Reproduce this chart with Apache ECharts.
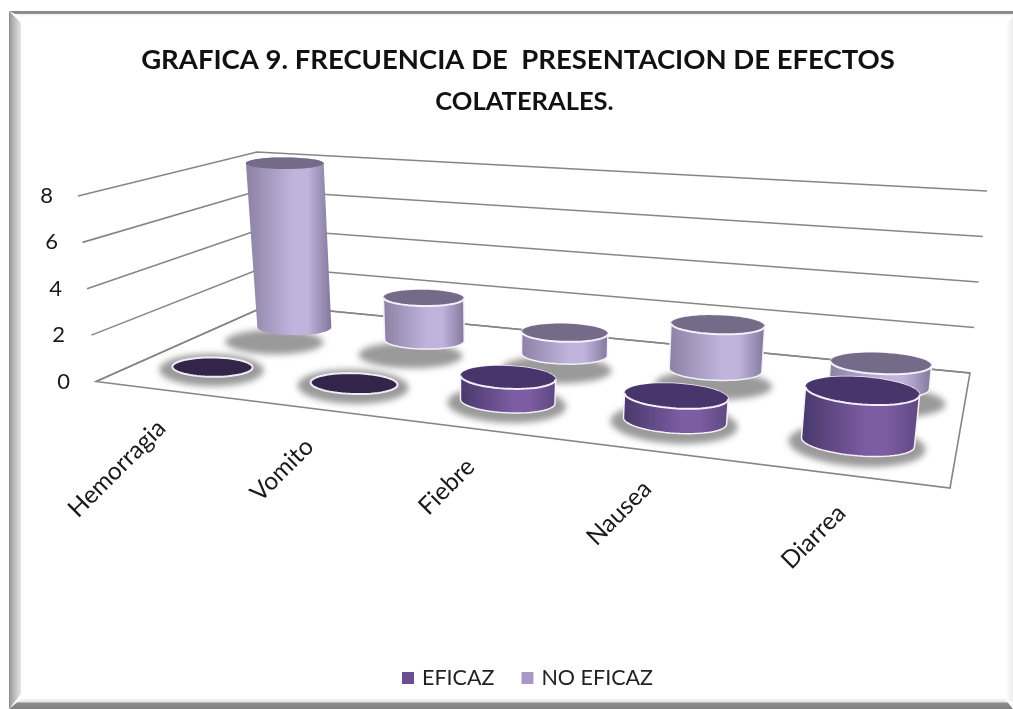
<!DOCTYPE html>
<html><head><meta charset="utf-8">
<style>html,body{margin:0;padding:0;background:#fff}#c{width:1013px;height:709px}</style>
<script src="https://cdn.jsdelivr.net/npm/echarts@6/dist/echarts.min.js"></script>
</head><body><div id="c"></div>
<script>
const categories = ['Hemorragia','Vomito','Fiebre','Nausea','Diarrea'];
const eficaz = [0,0,1,1,2];
const noEficaz = [8,2,1,2,1];
const yTicks = [0,2,4,6,8];
const seriesNames = ['EFICAZ','NO EFICAZ'];

// ---- perspective of the box (layout only) ----
const FL=[96,381.5], FR=[950,488], BR=[970,373], BL=[268,305];
const hFL=[-18,-185.5], hFR=[24,-218], hBR=[17,-182], hBL=[-11,-153];
const H=(function(){
  const dx1=FR[0]-BR[0],dx2=BL[0]-BR[0],sx=FL[0]-FR[0]+BR[0]-BL[0];
  const dy1=FR[1]-BR[1],dy2=BL[1]-BR[1],sy=FL[1]-FR[1]+BR[1]-BL[1];
  const den=dx1*dy2-dx2*dy1;
  const g=(sx*dy2-dx2*sy)/den,h=(dx1*sy-sx*dy1)/den;
  return {a:FR[0]-FL[0]+g*FR[0],b:BL[0]-FL[0]+h*BL[0],c:FL[0],
          d:FR[1]-FL[1]+g*FR[1],e:BL[1]-FL[1]+h*BL[1],f:FL[1],g,h};
})();
function proj(u,v,w){
  const q=H.g*u+H.h*v+1;
  const x=(H.a*u+H.b*v+H.c)/q, y=(H.d*u+H.e*v+H.f)/q;
  const bl=(A,B,C,D,i)=>(A[i]*(1-u)+B[i]*u)*(1-v)+(D[i]*(1-u)+C[i]*u)*v;
  return [x+w*bl(hFL,hFR,hBR,hBL,0), y+w*bl(hFL,hFR,hBR,hBL,1)];
}
function norm(params,api,cat,val){
  const p=api.coord([cat,val]), s=params.coordSys;
  return {u:(p[0]-s.x)/s.width, w:(s.y+s.height-p[1])/s.height};
}
// ellipse: long axis slightly tilted along the floor line, short axis vertical
function disc(u,v,w,ratio,tilt,extra,N){
  const c=proj(u,v,w), a=proj(u-RU,v,w), b=proj(u+RU,v,w);
  const ax=(b[0]-a[0])/2+extra, ay=(b[1]-a[1])/2*tilt*u, ry=ax*ratio;
  const pts=[];
  for(let i=0;i<N;i++){const t=i/N*2*Math.PI;pts.push([c[0]+ax*Math.cos(t),c[1]+ay*Math.cos(t)+ry*Math.sin(t)]);}
  return pts;
}
function hull(P){
  const s=P.slice().sort((a,b)=>a[0]-b[0]||a[1]-b[1]);
  const cr=(o,a,b)=>(a[0]-o[0])*(b[1]-o[1])-(a[1]-o[1])*(b[0]-o[0]);
  const lo=[],up=[];
  for(const p of s){while(lo.length>1&&cr(lo[lo.length-2],lo[lo.length-1],p)<=0)lo.pop();lo.push(p);}
  for(const p of s.slice().reverse()){while(up.length>1&&cr(up[up.length-2],up[up.length-1],p)<=0)up.pop();up.push(p);}
  return lo.slice(0,-1).concat(up.slice(0,-1));
}
const RU=0.059, OFF=3000;
const looks={
  front:{v:0.25,r0:0.24,r1:0.24,tilt:0.75,edge1:'#47386a',mid:'#7c5ca2',edge2:'#5d4880',top:'#47356b',flat:'#33244a'},
  back:{v:0.76,r0:0.22,r1:0.15,tilt:0.5,edge1:'#8b81a3',mid:'#c0b4dd',edge2:'#81779a',top:'#736b88',flat:'#33244a'}
};
function grad(l){return {type:'linear',x:0,y:0,x2:1,y2:0,colorStops:[
  {offset:0,color:l.edge1},{offset:.55,color:l.mid},{offset:.72,color:l.mid},{offset:1,color:l.edge2}]};}
function cylinder(look){
  return function(params,api){
    const l=looks[look];
    const n=norm(params,api,api.value(0),api.value(1));
    const N=64;
    const bot=disc(n.u,l.v,0,l.r0,l.tilt,0,N), top=disc(n.u,l.v,n.w,l.r0+(l.r1-l.r0)*n.w,l.tilt,0,N);
    const kids=[];
    const white=n.w<0.5;
    if(n.w>0){
      kids.push({type:'polygon',shape:{points:hull(bot.concat(top))},
        style:{fill:grad(l),stroke:white?'#f6f0fb':null,lineWidth:1.5}});
      kids.push({type:'polygon',shape:{points:top},style:{fill:l.top}});
      if(white){
        kids.push({type:'polyline',shape:{points:top.slice(0,N/2+1)},style:{stroke:'#f6f0fb',lineWidth:2,fill:null}});
      }
    } else {
      kids.push({type:'polygon',shape:{points:top},style:{fill:l.flat,stroke:'#f0ecf6',lineWidth:2}});
    }
    return {type:'group',children:kids};
  };
}
// soft shadow: the shape sits off-canvas, only its blurred shadow lands on the floor
function shadow(look){
  return function(params,api){
    const l=looks[look];
    const n=norm(params,api,api.value(0),api.value(1));
    const pts=disc(n.u,l.v,0,look==='back'?0.25:0.31,l.tilt,12,48);
    const dx=look==='back'?-23+n.u*30:-1, dy=look==='back'?15:3;
    return {type:'polygon',x:dx-OFF,y:dy,shape:{points:pts},
      style:{fill:'#999',shadowBlur:6,shadowColor:'#9a9a9a',shadowOffsetX:OFF,shadowOffsetY:0}};
  };
}
function wall(params,api){
  const n=norm(params,api,0,api.value(1));
  const a=proj(0,0,n.w), b=proj(0,1,n.w), c=proj(1,1,n.w);
  const kids=[{type:'polyline',shape:{points:[a,b,c]},style:{stroke:'#868686',lineWidth:1.6,fill:null}}];
  if(api.value(1)===0){
    kids.unshift({type:'polygon',shape:{points:[a,proj(1,0,0),c,b]},style:{fill:'#fff',stroke:'#868686',lineWidth:1.6}});
  }
  return {type:'group',children:kids};
}
function catLabel(params,api){
  const i=api.value(0);
  const n=norm(params,api,i,0);
  const p=proj(n.u,0,0);
  return {type:'text',x:p[0]-4,y:p[1]+34,rotation:Math.PI/4,
    style:{text:categories[i],font:'24.5px Lato',fill:'#1a1a1a',textAlign:'right',textVerticalAlign:'middle'}};
}
const pairs=a=>a.map((v,i)=>[i,v]);
const tickPad={8:17,6:12,4:8,2:5,0:0};
const rich={};
yTicks.forEach(t=>{rich['t'+t]={padding:[0,tickPad[t],0,0],fontFamily:'Lato',fontSize:22,color:'#1a1a1a'};});

const frame=[
  {type:'polygon',shape:{points:[[9,11],[21,23],[21,694],[9,709]]},style:{fill:{type:'linear',x:0,y:0,x2:1,y2:0,colorStops:[{offset:0,color:'#8a8a8a'},{offset:.2,color:'#a8a8a8'},{offset:1,color:'#e6e6e6'}]}}},
  {type:'polygon',shape:{points:[[9,11],[1013,11],[1013,17],[21,17]]},style:{fill:{type:'linear',x:0,y:0,x2:0,y2:1,colorStops:[{offset:0,color:'#858585'},{offset:.42,color:'#8f8f8f'},{offset:.5,color:'#f2f2f2'},{offset:1,color:'#fdfdfd'}]}}},
  {type:'polygon',shape:{points:[[9,709],[1013,709],[1005,699],[21,699]]},style:{fill:{type:'linear',x:0,y:0,x2:0,y2:1,colorStops:[{offset:0,color:'#f6f6f6'},{offset:.3,color:'#e4e4e4'},{offset:.4,color:'#8c8c8c'},{offset:1,color:'#808080'}]}}},
  {type:'polygon',shape:{points:[[1013,17],[1013,702],[1007,699],[1007,23]]},style:{fill:{type:'linear',x:0,y:0,x2:1,y2:0,colorStops:[{offset:0,color:'#fbfbfb'},{offset:1,color:'#ececec'}]}}}
];

const chart=echarts.init(document.getElementById('c'),null,{renderer:'canvas'});
chart.setOption({
  animation:false,
  backgroundColor:'#ffffff',
  graphic:{elements:frame.map(f=>Object.assign({silent:true,z:-10},f))},
  title:{left:513,top:35,textAlign:'center',
    text:'{a|GRAFICA 9. FRECUENCIA DE  PRESENTACION DE EFECTOS}\n{b|COLATERALES}{n|.}',
    textStyle:{rich:{a:{fontFamily:'Lato',fontWeight:'bold',fontSize:27.5,color:'#111',lineHeight:41},
      b:{fontFamily:'Lato',fontWeight:'bold',fontSize:25.5,color:'#111',lineHeight:41,padding:[0,0,0,13]},
      n:{fontFamily:'Lato',fontSize:25.5,color:'#111',lineHeight:41}}}},
  legend:{left:397,top:662,itemWidth:12,itemHeight:12,itemGap:27,icon:'rect',data:seriesNames,selectedMode:false,
    textStyle:{fontFamily:'Lato',fontSize:21.5,color:'#222',padding:[0,0,0,3]}},
  grid:{left:70,top:196,width:800,height:185.5},
  xAxis:{type:'category',data:categories,axisLine:{show:false},axisTick:{show:false},axisLabel:{show:false},splitLine:{show:false}},
  yAxis:{type:'value',min:0,max:8,interval:2,axisLine:{show:false},axisTick:{show:false},splitLine:{show:false},
    axisLabel:{margin:0,formatter:v=>'{t'+v+'|'+v+'}',rich}},
  series:[
    {name:'walls',type:'custom',z:1,silent:true,coordinateSystem:'cartesian2d',data:yTicks.map(t=>[0,t]),encode:{x:0,y:1},renderItem:wall},
    {name:'labels',type:'custom',z:1,silent:true,data:pairs(categories.map(()=>0)),encode:{x:0,y:1},renderItem:catLabel},
    {name:'s2',type:'custom',z:2,silent:true,data:pairs(noEficaz),encode:{x:0,y:1},renderItem:shadow('back')},
    {name:'s1',type:'custom',z:2,silent:true,data:pairs(eficaz),encode:{x:0,y:1},renderItem:shadow('front')},
    {name:'NO EFICAZ',type:'custom',z:3,itemStyle:{color:'#a898c6'},data:pairs(noEficaz),encode:{x:0,y:1},renderItem:cylinder('back')},
    {name:'EFICAZ',type:'custom',z:4,itemStyle:{color:'#6b4f96'},data:pairs(eficaz),encode:{x:0,y:1},renderItem:cylinder('front')}
  ]
});
</script></body></html>
